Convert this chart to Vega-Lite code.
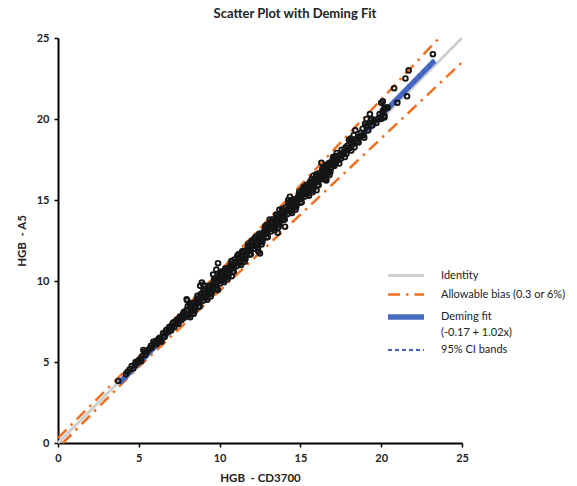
{
  "$schema": "https://vega.github.io/schema/vega-lite/v6.json",
  "width": 404,
  "height": 405,
  "autosize": {"type": "none"},
  "padding": {"left": 58, "top": 38, "right": 115, "bottom": 43},
  "background": "white",
  "title": {"text": "Scatter Plot with Deming Fit", "font": "Lato", "fontSize": 13, "fontWeight": "bold", "color": "#222", "offset": 11, "dx": 35},
  "config": {
    "view": {"stroke": null},
    "axis": {"grid": false, "labelFlush": false, "domainColor": "#000", "domainWidth": 2, "tickColor": "#000", "tickWidth": 1.5, "tickSize": 4, "labelFont": "Lato", "labelFontSize": 11, "labelFontWeight": "bold", "labelColor": "#222", "labelPadding": 5, "titleFont": "Lato", "titleFontSize": 11.5, "titleFontWeight": "bold", "titleColor": "#222"}
  },
  "datasets": {
    "lines": [
      {"series": "Identity", "grp": "id", "x": 0, "y": 0},
      {"series": "Identity", "grp": "id", "x": 25, "y": 25},
      {"series": "Allowable bias (0.3 or 6%)", "grp": "bu", "x": 0, "y": 0.3},
      {"series": "Allowable bias (0.3 or 6%)", "grp": "bu", "x": 5, "y": 5.3},
      {"series": "Allowable bias (0.3 or 6%)", "grp": "bu", "x": 23.58, "y": 25},
      {"series": "Allowable bias (0.3 or 6%)", "grp": "bl", "x": 0.3, "y": 0},
      {"series": "Allowable bias (0.3 or 6%)", "grp": "bl", "x": 5, "y": 4.7},
      {"series": "Allowable bias (0.3 or 6%)", "grp": "bl", "x": 25, "y": 23.5},
      {"series": "Deming fit|(-0.17 + 1.02x)", "grp": "dm", "x": 3.8, "y": 3.706},
      {"series": "Deming fit|(-0.17 + 1.02x)", "grp": "dm", "x": 23.3, "y": 23.596},
      {"series": "95% CI bands", "grp": "cl", "x": 3.8, "y": 3.66},
      {"series": "95% CI bands", "grp": "cl", "x": 23.3, "y": 23.52},
      {"series": "95% CI bands", "grp": "cu", "x": 3.8, "y": 3.75},
      {"series": "95% CI bands", "grp": "cu", "x": 23.3, "y": 23.67}
    ],
    "pts": [
      {"x": 8.0, "y": 8.21}, {"x": 8.15, "y": 7.96}, {"x": 8.3, "y": 8.35}, {"x": 8.45, "y": 8.15}, {"x": 8.6, "y": 8.92}, {"x": 8.75, "y": 8.68}, {"x": 8.9, "y": 9.05},
      {"x": 9.05, "y": 9.28}, {"x": 9.2, "y": 9.03}, {"x": 9.35, "y": 9.42}, {"x": 9.5, "y": 9.22}, {"x": 9.65, "y": 9.99}, {"x": 9.8, "y": 9.75}, {"x": 9.95, "y": 10.12},
      {"x": 10.1, "y": 10.35}, {"x": 10.25, "y": 10.11}, {"x": 10.4, "y": 10.49}, {"x": 10.55, "y": 10.29}, {"x": 10.7, "y": 11.06}, {"x": 10.85, "y": 10.82}, {"x": 11.0, "y": 11.19},
      {"x": 11.15, "y": 11.42}, {"x": 11.3, "y": 11.18}, {"x": 11.45, "y": 11.56}, {"x": 11.6, "y": 11.36}, {"x": 11.75, "y": 12.14}, {"x": 11.9, "y": 11.89}, {"x": 12.05, "y": 12.26},
      {"x": 12.2, "y": 12.49}, {"x": 12.35, "y": 12.25}, {"x": 12.5, "y": 12.63}, {"x": 12.65, "y": 12.43}, {"x": 12.8, "y": 13.21}, {"x": 12.95, "y": 12.96}, {"x": 13.1, "y": 13.33},
      {"x": 13.25, "y": 13.57}, {"x": 13.4, "y": 13.32}, {"x": 13.55, "y": 13.70}, {"x": 13.7, "y": 13.50}, {"x": 13.85, "y": 14.28}, {"x": 14.0, "y": 14.03}, {"x": 14.15, "y": 14.40},
      {"x": 14.3, "y": 14.64}, {"x": 14.45, "y": 14.39}, {"x": 14.6, "y": 14.77}, {"x": 14.75, "y": 14.58}, {"x": 14.9, "y": 15.35}, {"x": 15.05, "y": 15.10}, {"x": 15.2, "y": 15.47},
      {"x": 15.35, "y": 15.71}, {"x": 15.5, "y": 15.46}, {"x": 15.65, "y": 15.84}, {"x": 15.8, "y": 15.65}, {"x": 15.95, "y": 16.42}, {"x": 16.1, "y": 16.17}, {"x": 16.25, "y": 16.55},
      {"x": 16.4, "y": 16.78}, {"x": 16.55, "y": 16.53}, {"x": 16.7, "y": 16.91}, {"x": 16.85, "y": 16.72}, {"x": 17.0, "y": 17.49},
      {"x": 8.07, "y": 7.94}, {"x": 8.22, "y": 8.49}, {"x": 8.37, "y": 8.12}, {"x": 8.52, "y": 8.62}, {"x": 8.67, "y": 8.62}, {"x": 8.82, "y": 9.18}, {"x": 8.97, "y": 8.78},
      {"x": 9.12, "y": 9.01}, {"x": 9.27, "y": 9.57}, {"x": 9.42, "y": 9.19}, {"x": 9.57, "y": 9.69}, {"x": 9.72, "y": 9.69}, {"x": 9.87, "y": 10.25}, {"x": 10.02, "y": 9.85},
      {"x": 10.17, "y": 10.08}, {"x": 10.32, "y": 10.64}, {"x": 10.47, "y": 10.26}, {"x": 10.62, "y": 10.76}, {"x": 10.77, "y": 10.77}, {"x": 10.92, "y": 11.32}, {"x": 11.07, "y": 10.92},
      {"x": 11.22, "y": 11.15}, {"x": 11.37, "y": 11.71}, {"x": 11.52, "y": 11.33}, {"x": 11.67, "y": 11.83}, {"x": 11.82, "y": 11.84}, {"x": 11.97, "y": 12.39}, {"x": 12.12, "y": 11.99},
      {"x": 12.27, "y": 12.23}, {"x": 12.42, "y": 12.78}, {"x": 12.57, "y": 12.40}, {"x": 12.72, "y": 12.90}, {"x": 12.87, "y": 12.91}, {"x": 13.02, "y": 13.46}, {"x": 13.17, "y": 13.06},
      {"x": 13.32, "y": 13.30}, {"x": 13.47, "y": 13.85}, {"x": 13.62, "y": 13.47}, {"x": 13.77, "y": 13.98}, {"x": 13.92, "y": 13.98}, {"x": 14.07, "y": 14.53}, {"x": 14.22, "y": 14.13},
      {"x": 14.37, "y": 14.37}, {"x": 14.52, "y": 14.92}, {"x": 14.67, "y": 14.54}, {"x": 14.82, "y": 15.05}, {"x": 14.97, "y": 15.05}, {"x": 15.12, "y": 15.60}, {"x": 15.27, "y": 15.21},
      {"x": 15.42, "y": 15.44}, {"x": 15.57, "y": 15.99}, {"x": 15.72, "y": 15.61}, {"x": 15.87, "y": 16.12}, {"x": 16.02, "y": 16.12}, {"x": 16.17, "y": 16.67}, {"x": 16.32, "y": 16.28},
      {"x": 16.47, "y": 16.51}, {"x": 16.62, "y": 17.06}, {"x": 16.77, "y": 16.69}, {"x": 16.92, "y": 17.19}, {"x": 17.07, "y": 17.19},
      {"x": 8.03, "y": 8.44}, {"x": 8.18, "y": 7.77}, {"x": 8.33, "y": 8.63}, {"x": 8.48, "y": 8.36}, {"x": 8.63, "y": 9.08}, {"x": 8.78, "y": 8.44}, {"x": 8.93, "y": 8.94},
      {"x": 9.08, "y": 9.51}, {"x": 9.23, "y": 8.85}, {"x": 9.38, "y": 9.70}, {"x": 9.53, "y": 9.43}, {"x": 9.68, "y": 10.15}, {"x": 9.83, "y": 9.51}, {"x": 9.98, "y": 10.01},
      {"x": 10.13, "y": 10.58}, {"x": 10.28, "y": 9.92}, {"x": 10.43, "y": 10.77}, {"x": 10.58, "y": 10.50}, {"x": 10.73, "y": 11.23}, {"x": 10.88, "y": 10.58}, {"x": 11.03, "y": 11.08},
      {"x": 11.18, "y": 11.65}, {"x": 11.33, "y": 10.99}, {"x": 11.48, "y": 11.84}, {"x": 11.63, "y": 11.57}, {"x": 11.78, "y": 12.30}, {"x": 11.93, "y": 11.65}, {"x": 12.08, "y": 12.15},
      {"x": 12.23, "y": 12.73}, {"x": 12.38, "y": 12.06}, {"x": 12.53, "y": 12.91}, {"x": 12.68, "y": 12.64}, {"x": 12.83, "y": 13.37}, {"x": 12.98, "y": 12.72}, {"x": 13.13, "y": 13.22},
      {"x": 13.28, "y": 13.80}, {"x": 13.43, "y": 13.13}, {"x": 13.58, "y": 13.98}, {"x": 13.73, "y": 13.72}, {"x": 13.88, "y": 14.44}, {"x": 14.03, "y": 13.79}, {"x": 14.18, "y": 14.29},
      {"x": 14.33, "y": 14.87}, {"x": 14.48, "y": 14.20}, {"x": 14.63, "y": 15.05}, {"x": 14.78, "y": 14.79}, {"x": 14.93, "y": 15.51}, {"x": 15.08, "y": 14.86}, {"x": 15.23, "y": 15.37},
      {"x": 15.38, "y": 15.94}, {"x": 15.53, "y": 15.27}, {"x": 15.68, "y": 16.12}, {"x": 15.83, "y": 15.86}, {"x": 15.98, "y": 16.58}, {"x": 16.13, "y": 15.93}, {"x": 16.28, "y": 16.44},
      {"x": 16.43, "y": 17.01}, {"x": 16.58, "y": 16.34}, {"x": 16.73, "y": 17.20}, {"x": 16.88, "y": 16.93}, {"x": 17.03, "y": 17.65},
      {"x": 8.10, "y": 7.89}, {"x": 8.25, "y": 8.63}, {"x": 8.40, "y": 7.98}, {"x": 8.55, "y": 8.73}, {"x": 8.70, "y": 8.40}, {"x": 8.85, "y": 8.94}, {"x": 9.00, "y": 9.41},
      {"x": 9.15, "y": 8.96}, {"x": 9.30, "y": 9.70}, {"x": 9.45, "y": 9.05}, {"x": 9.60, "y": 9.80}, {"x": 9.75, "y": 9.48}, {"x": 9.90, "y": 10.01}, {"x": 10.05, "y": 10.48},
      {"x": 10.20, "y": 10.03}, {"x": 10.35, "y": 10.77}, {"x": 10.50, "y": 10.12}, {"x": 10.65, "y": 10.87}, {"x": 10.80, "y": 10.55}, {"x": 10.95, "y": 11.08}, {"x": 11.10, "y": 11.55},
      {"x": 11.25, "y": 11.11}, {"x": 11.40, "y": 11.84}, {"x": 11.55, "y": 11.19}, {"x": 11.70, "y": 11.94}, {"x": 11.85, "y": 11.62}, {"x": 12.00, "y": 12.15}, {"x": 12.15, "y": 12.62},
      {"x": 12.30, "y": 12.18}, {"x": 12.45, "y": 12.91}, {"x": 12.60, "y": 12.26}, {"x": 12.75, "y": 13.02}, {"x": 12.90, "y": 12.69}, {"x": 13.05, "y": 13.22}, {"x": 13.20, "y": 13.69},
      {"x": 13.35, "y": 13.25}, {"x": 13.50, "y": 13.98}, {"x": 13.65, "y": 13.33}, {"x": 13.80, "y": 14.09}, {"x": 13.95, "y": 13.76}, {"x": 14.10, "y": 14.29}, {"x": 14.25, "y": 14.77},
      {"x": 14.40, "y": 14.32}, {"x": 14.55, "y": 15.05}, {"x": 14.70, "y": 14.40}, {"x": 14.85, "y": 15.16}, {"x": 15.00, "y": 14.83}, {"x": 15.15, "y": 15.36}, {"x": 15.30, "y": 15.84},
      {"x": 15.45, "y": 15.39}, {"x": 15.60, "y": 16.12}, {"x": 15.75, "y": 15.48}, {"x": 15.90, "y": 16.23}, {"x": 16.05, "y": 15.90}, {"x": 16.20, "y": 16.43}, {"x": 16.35, "y": 16.91},
      {"x": 16.50, "y": 16.46}, {"x": 16.65, "y": 17.19}, {"x": 16.80, "y": 16.55}, {"x": 16.95, "y": 17.30},
      {"x": 3.73, "y": 3.83}, {"x": 4.56, "y": 4.75}, {"x": 4.66, "y": 4.6}, {"x": 4.76, "y": 4.8}, {"x": 4.9, "y": 4.95}, {"x": 5.1, "y": 5.2}, {"x": 5.28, "y": 5.74}, {"x": 5.5, "y": 5.63},
      {"x": 5.4, "y": 5.43}, {"x": 5.7, "y": 5.85}, {"x": 5.9, "y": 6.25}, {"x": 6.0, "y": 6.15}, {"x": 6.2, "y": 6.36}, {"x": 6.4, "y": 6.25}, {"x": 6.3, "y": 6.5}, {"x": 6.5, "y": 6.77},
      {"x": 6.6, "y": 6.55}, {"x": 6.7, "y": 6.98}, {"x": 6.9, "y": 7.18}, {"x": 7.0, "y": 6.95}, {"x": 7.1, "y": 7.39}, {"x": 7.2, "y": 7.15}, {"x": 7.35, "y": 7.6}, {"x": 7.45, "y": 7.35},
      {"x": 7.55, "y": 7.8}, {"x": 7.65, "y": 7.6}, {"x": 7.75, "y": 8.0}, {"x": 7.85, "y": 7.75}, {"x": 7.96, "y": 8.2}, {"x": 8.17, "y": 8.4}, {"x": 8.37, "y": 8.6},
      {"x": 4.3, "y": 4.4}, {"x": 4.45, "y": 4.55}, {"x": 5.0, "y": 5.1}, {"x": 5.2, "y": 5.35}, {"x": 5.6, "y": 5.75}, {"x": 5.8, "y": 5.9}, {"x": 6.1, "y": 6.1}, {"x": 6.25, "y": 6.45},
      {"x": 6.55, "y": 6.6}, {"x": 6.8, "y": 6.85}, {"x": 6.85, "y": 7.1}, {"x": 7.05, "y": 7.2}, {"x": 7.3, "y": 7.35}, {"x": 7.5, "y": 7.6}, {"x": 7.7, "y": 7.85}, {"x": 7.9, "y": 7.95},
      {"x": 5.35, "y": 5.65}, {"x": 6.05, "y": 6.3},
      {"x": 4.2, "y": 4.25}, {"x": 4.8, "y": 5.0}, {"x": 5.15, "y": 5.05}, {"x": 5.45, "y": 5.6}, {"x": 5.75, "y": 6.0}, {"x": 6.15, "y": 6.3}, {"x": 6.35, "y": 6.35},
      {"x": 6.65, "y": 6.8}, {"x": 6.95, "y": 7.0}, {"x": 7.15, "y": 7.45}, {"x": 7.4, "y": 7.5}, {"x": 7.6, "y": 7.75}, {"x": 7.8, "y": 8.1}, {"x": 7.92, "y": 7.85},
      {"x": 7.96, "y": 8.87}, {"x": 8.0, "y": 8.8}, {"x": 8.9, "y": 9.9}, {"x": 9.0, "y": 9.75}, {"x": 8.8, "y": 9.7}, {"x": 9.9, "y": 11.1}, {"x": 9.8, "y": 10.7}, {"x": 9.6, "y": 10.4},
      {"x": 10.0, "y": 10.5}, {"x": 9.9, "y": 9.45}, {"x": 10.75, "y": 10.3}, {"x": 12.0, "y": 12.5}, {"x": 12.4, "y": 11.8}, {"x": 12.5, "y": 11.7}, {"x": 13.6, "y": 12.98},
      {"x": 14.35, "y": 15.2}, {"x": 14.25, "y": 15.0}, {"x": 16.0, "y": 15.6}, {"x": 16.6, "y": 16.3},
      {"x": 23.2, "y": 24.0}, {"x": 21.7, "y": 23.0}, {"x": 21.5, "y": 22.5}, {"x": 20.8, "y": 21.9}, {"x": 21.6, "y": 21.4}, {"x": 21.0, "y": 21.0}, {"x": 20.1, "y": 21.1}, {"x": 20.0, "y": 21.0},
      {"x": 20.4, "y": 20.7}, {"x": 20.2, "y": 20.7}, {"x": 20.1, "y": 20.5}, {"x": 20.2, "y": 20.1}, {"x": 20.0, "y": 20.1}, {"x": 19.8, "y": 20.0}, {"x": 19.3, "y": 20.3}, {"x": 19.1, "y": 20.0},
      {"x": 19.4, "y": 20.0}, {"x": 19.0, "y": 19.7}, {"x": 19.1, "y": 19.5}, {"x": 18.9, "y": 19.0}, {"x": 20.3, "y": 20.7}, {"x": 20.2, "y": 20.6}, {"x": 20.1, "y": 20.4}, {"x": 20.0, "y": 20.0},
      {"x": 20.2, "y": 20.2}, {"x": 19.35, "y": 19.9}, {"x": 18.4, "y": 19.3}, {"x": 19.1, "y": 19.6}, {"x": 18.85, "y": 19.4}, {"x": 18.1, "y": 18.8}, {"x": 18.0, "y": 18.7}, {"x": 18.7, "y": 18.9},
      {"x": 18.85, "y": 19.0}, {"x": 18.5, "y": 18.6}, {"x": 18.3, "y": 18.5}, {"x": 17.8, "y": 18.25}, {"x": 17.55, "y": 18.1}, {"x": 17.25, "y": 17.9}, {"x": 17.45, "y": 17.7}, {"x": 17.15, "y": 17.5},
      {"x": 16.9, "y": 17.3}, {"x": 16.6, "y": 17.05}, {"x": 16.3, "y": 17.3}, {"x": 18.3, "y": 19.0}, {"x": 18.5, "y": 18.8}, {"x": 18.1, "y": 18.6}, {"x": 17.15, "y": 17.7}, {"x": 16.4, "y": 16.75},
      {"x": 16.8, "y": 17.3}, {"x": 15.8, "y": 16.5}, {"x": 15.7, "y": 16.3}, {"x": 15.9, "y": 16.2}, {"x": 16.6, "y": 16.2}, {"x": 16.5, "y": 16.3}, {"x": 15.2, "y": 15.8}, {"x": 15.1, "y": 15.6},
      {"x": 15.4, "y": 15.4}, {"x": 14.6, "y": 14.9}, {"x": 14.7, "y": 14.6}, {"x": 13.7, "y": 14.4}, {"x": 13.5, "y": 14.1}, {"x": 13.9, "y": 13.8}, {"x": 14.05, "y": 13.35}, {"x": 13.1, "y": 13.8},
      {"x": 12.9, "y": 13.45}, {"x": 17.3, "y": 17.45}, {"x": 17.6, "y": 17.8}, {"x": 17.9, "y": 18.1}, {"x": 18.2, "y": 18.4}, {"x": 17.7, "y": 18.0}, {"x": 18.6, "y": 18.9}, {"x": 19.5, "y": 19.8},
      {"x": 19.6, "y": 19.95},
      {"x": 17.2, "y": 17.3}, {"x": 17.35, "y": 17.75}, {"x": 17.5, "y": 17.55}, {"x": 17.65, "y": 17.9}, {"x": 17.75, "y": 17.65}, {"x": 17.9, "y": 18.35}, {"x": 18.05, "y": 18.2},
      {"x": 18.2, "y": 18.6}, {"x": 18.35, "y": 18.25}, {"x": 18.45, "y": 18.75}, {"x": 18.6, "y": 18.55}, {"x": 18.75, "y": 19.15}, {"x": 18.95, "y": 18.85}, {"x": 19.2, "y": 19.3},
      {"x": 19.45, "y": 19.6}, {"x": 19.7, "y": 19.75}, {"x": 19.9, "y": 20.3}, {"x": 17.1, "y": 17.1}, {"x": 17.4, "y": 17.25}, {"x": 17.85, "y": 17.85}, {"x": 18.15, "y": 18.05}
    ]
  },
  "layer": [
    {
      "data": {"name": "lines"},
      "mark": {"type": "line", "strokeCap": "butt"},
      "encoding": {
        "x": {"field": "x", "type": "quantitative", "scale": {"domain": [0, 25], "nice": false, "zero": false}, "axis": {"values": [0, 5, 10, 15, 20, 25], "title": "HGB\u00a0\u00a0- CD3700", "titlePadding": 9}},
        "y": {"field": "y", "type": "quantitative", "scale": {"domain": [0, 25], "nice": false, "zero": false}, "axis": {"values": [0, 5, 10, 15, 20, 25], "title": "HGB\u00a0\u00a0- A5", "titlePadding": 9}},
        "detail": {"field": "grp"},
        "order": {"field": "x"},
        "color": {
          "field": "series", "type": "nominal",
          "scale": {"domain": ["Identity", "Allowable bias (0.3 or 6%)", "Deming fit|(-0.17 + 1.02x)", "95% CI bands"], "range": ["#cfcfcf", "#f07022", "#4a6cc0", "#3f62c2"]},
          "legend": {
            "title": null, "orient": "none", "legendX": 340, "legendY": 231, "padding": 0,
            "symbolType": "M-3.6,0H3.6", "symbolSize": 100, "labelOffset": 27,
            "labelFont": "Lato", "labelFontSize": 11, "labelColor": "#222", "rowPadding": 6,
            "labelExpr": "split(datum.label, '|')", "labelLimit": 300,
            "encode": {
              "symbols": {"update": {"strokeWidth": {"signal": "datum.value === 'Identity' ? 3 : datum.value === 'Allowable bias (0.3 or 6%)' ? 2.5 : datum.value === '95% CI bands' ? 1.8 : 5.5"}, "fill": {"value": "transparent"}}},
              "labels": {"update": {"lineHeight": {"value": 16}}}
            }
          }
        },
        "strokeDash": {
          "field": "series", "type": "nominal",
          "scale": {"domain": ["Identity", "Allowable bias (0.3 or 6%)", "Deming fit|(-0.17 + 1.02x)", "95% CI bands"], "range": [[1, 0], [12, 6, 2.5, 6], [1, 0], [4, 3]]}
        },
        "strokeWidth": {
          "field": "series", "type": "ordinal",
          "scale": {"type": "ordinal", "domain": ["Identity", "Allowable bias (0.3 or 6%)", "Deming fit|(-0.17 + 1.02x)", "95% CI bands"], "range": [3, 2.5, 5.5, 1.8]}
        }
      }
    },
    {
      "data": {"name": "pts"},
      "mark": {"type": "point", "shape": "circle", "filled": false, "stroke": "#151515", "strokeWidth": 1.9, "size": 22, "opacity": 1},
      "encoding": {
        "x": {"field": "x", "type": "quantitative"},
        "y": {"field": "y", "type": "quantitative"}
      }
    }
  ]
}
